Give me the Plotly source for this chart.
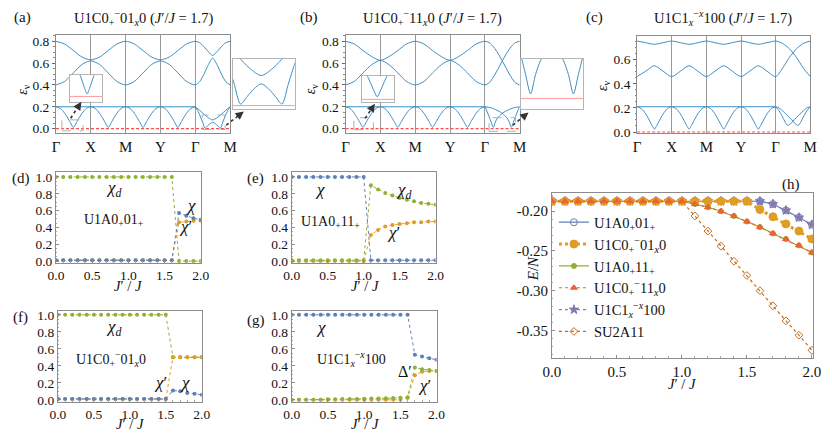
import plotly.graph_objects as go

W, H = 832, 441
FONT = "Liberation Serif"
BAND_C = "#3d8fc4"
BLUE = "#5E81B5"; ORANGE = "#E19C24"; GREEN = "#8FB032"
RED = "#EB6235"; PURPLE = "#8778B3"; BROWN = "#C56E1A"

# ---------------- band-structure data ----------------
hs_ticks = [0, 1, 2, 3, 4, 5]
hs_labels = ["Γ", "X", "M", "Y", "Γ", "M"]

k_up = [0, 0.25, 0.5, 0.75, 1, 1.25, 1.5, 1.75, 2, 2.25, 2.5, 2.75, 3, 3.25, 3.5, 3.75, 4,
        4.125, 4.25, 4.375, 4.5, 4.625, 4.75, 4.875, 5]
k_low = [0, 0.125, 0.25, 0.375, 0.45, 0.5, 0.55, 0.625, 0.75, 0.875,
         1, 1.125, 1.25, 1.375, 1.45, 1.5, 1.55, 1.625, 1.75, 1.875,
         2, 2.125, 2.25, 2.375, 2.45, 2.5, 2.55, 2.625, 2.75, 2.875,
         3, 3.125, 3.25, 3.375, 3.45, 3.5, 3.55, 3.625, 3.75, 3.875, 4]
k_flat = [0, 4]

# (a)
a_top = [0.80, 0.775, 0.715, 0.655, 0.63, 0.655, 0.715, 0.775, 0.80, 0.775, 0.715, 0.655, 0.63,
         0.655, 0.715, 0.775, 0.80, 0.787, 0.75, 0.705, 0.67, 0.705, 0.75, 0.787, 0.80]
a_mid = [0.40, 0.432, 0.51, 0.588, 0.62, 0.588, 0.51, 0.432, 0.40, 0.432, 0.51, 0.588, 0.62,
         0.588, 0.51, 0.432, 0.40, 0.43, 0.50, 0.585, 0.645, 0.585, 0.50, 0.43, 0.40]
a_flat = [0.2, 0.2]
a_low = [0.2, 0.185, 0.141, 0.077, 0.033, 0.01, 0.033, 0.077, 0.141, 0.185,
         0.2, 0.185, 0.141, 0.077, 0.033, 0.01, 0.033, 0.077, 0.141, 0.185,
         0.2, 0.185, 0.141, 0.077, 0.033, 0.01, 0.033, 0.077, 0.141, 0.185,
         0.2, 0.185, 0.141, 0.077, 0.033, 0.01, 0.033, 0.077, 0.141, 0.185, 0.2]
a_k_gm1 = [4.0, 4.07, 4.14, 4.21, 4.28, 4.35, 4.42, 4.5, 4.58, 4.65, 4.72, 4.79, 4.86, 4.93, 5.0]
a_gm1 = [0.2, 0.165, 0.115, 0.06, 0.004, 0.024, 0.044, 0.058, 0.044, 0.024, 0.004, 0.06, 0.115, 0.165, 0.2]
a_k_gm2 = [4.0, 4.125, 4.25, 4.375, 4.5, 4.625, 4.75, 4.875, 5.0]
a_gm2 = [0.2, 0.168, 0.132, 0.1, 0.08, 0.1, 0.132, 0.168, 0.2]

# (b)
b_top = [0.80, 0.775, 0.715, 0.66, 0.625, 0.66, 0.715, 0.775, 0.80, 0.775, 0.715, 0.66, 0.625,
         0.66, 0.715, 0.775, 0.80, 0.787, 0.748, 0.69, 0.62, 0.545, 0.475, 0.42, 0.40]
b_mid = [0.40, 0.432, 0.51, 0.585, 0.625, 0.585, 0.51, 0.432, 0.40, 0.432, 0.51, 0.585, 0.625,
         0.585, 0.51, 0.432, 0.40, 0.42, 0.475, 0.545, 0.62, 0.69, 0.748, 0.787, 0.80]
b_flat = [0.2, 0.2]
b_low = [0.2, 0.185, 0.141, 0.077, 0.034, 0.011, 0.034, 0.077, 0.141, 0.185,
         0.2, 0.185, 0.141, 0.077, 0.034, 0.011, 0.034, 0.077, 0.141, 0.185,
         0.2, 0.185, 0.141, 0.077, 0.034, 0.011, 0.034, 0.077, 0.141, 0.185,
         0.2, 0.185, 0.141, 0.077, 0.034, 0.011, 0.034, 0.077, 0.141, 0.185, 0.2]
b_k_gm1 = [4.0, 4.06, 4.12, 4.18, 4.24, 4.30, 4.36, 4.43, 4.5, 4.6, 4.7, 4.8, 4.9, 5.0]
b_gm1 = [0.2, 0.16, 0.11, 0.06, 0.012, 0.06, 0.095, 0.12, 0.14, 0.16, 0.175, 0.188, 0.196, 0.2]
b_k_gm2 = [4.0, 4.1, 4.2, 4.3, 4.4, 4.5, 4.57, 4.64, 4.70, 4.76, 4.82, 4.88, 4.94, 5.0]
b_gm2 = [0.2, 0.196, 0.188, 0.175, 0.16, 0.14, 0.12, 0.095, 0.06, 0.012, 0.06, 0.11, 0.16, 0.2]

# (c)
c_k_up = [0, 0.25, 0.5, 0.75, 1, 1.25, 1.5, 1.75, 2, 2.25, 2.5, 2.75, 3, 3.25, 3.5, 3.75, 4,
          4.2, 4.4, 4.6, 4.8, 5]
c_top = [0.755, 0.7415, 0.728, 0.7415, 0.755, 0.7415, 0.728, 0.7415, 0.755, 0.7415, 0.728,
         0.7415, 0.755, 0.7415, 0.728, 0.7415, 0.755, 0.735, 0.69, 0.62, 0.53, 0.46]
c_mid = [0.46, 0.505, 0.55, 0.505, 0.46, 0.505, 0.55, 0.505, 0.46, 0.505, 0.55, 0.505, 0.46,
         0.505, 0.55, 0.505, 0.46, 0.53, 0.62, 0.69, 0.735, 0.755]
c_flat = [0.21, 0.21]
c_low = [0.21, 0.194, 0.15, 0.085, 0.045, 0.024, 0.045, 0.085, 0.15, 0.194,
         0.21, 0.194, 0.15, 0.085, 0.045, 0.024, 0.045, 0.085, 0.15, 0.194,
         0.21, 0.194, 0.15, 0.085, 0.045, 0.024, 0.045, 0.085, 0.15, 0.194,
         0.21, 0.194, 0.15, 0.085, 0.045, 0.024, 0.045, 0.085, 0.15, 0.194, 0.21]
c_k_gm1 = [4.0, 4.1, 4.2, 4.28, 4.35, 4.42, 4.5, 4.6, 4.7, 4.8, 4.9, 5.0]
c_gm1 = [0.21, 0.175, 0.125, 0.08, 0.055, 0.065, 0.09, 0.12, 0.15, 0.175, 0.2, 0.21]
c_k_gm2 = [4.0, 4.1, 4.2, 4.3, 4.4, 4.5, 4.58, 4.65, 4.72, 4.8, 4.9, 5.0]
c_gm2 = [0.21, 0.2, 0.175, 0.15, 0.12, 0.09, 0.065, 0.055, 0.08, 0.125, 0.175, 0.21]

# ---------------- order-parameter data ----------------
jx = [0.0, 0.1, 0.2, 0.3, 0.4, 0.5, 0.6, 0.7, 0.8, 0.9, 1.0, 1.1, 1.2, 1.3, 1.4, 1.5, 1.6, 1.7, 1.8, 1.9, 2.0]

d_chid = [1.0, 1.0, 1.0, 1.0, 1.0, 1.0, 1.0, 1.0, 1.0, 1.0, 1.0, 1.0, 1.0, 1.0, 1.0, 1.0, 1.0, 0.0, 0.0, 0.0, 0.0]
d_chi = [0.01, 0.01, 0.01, 0.01, 0.01, 0.01, 0.01, 0.01, 0.01, 0.01, 0.01, 0.01, 0.01, 0.01, 0.01, 0.01, 0.01, 0.57, 0.54, 0.51, 0.49]
d_chip = [0.01, 0.01, 0.01, 0.01, 0.01, 0.01, 0.01, 0.01, 0.01, 0.01, 0.01, 0.01, 0.01, 0.01, 0.01, 0.01, 0.01, 0.46, 0.47, 0.48, 0.48]

e_chi = [1.0, 1.0, 1.0, 1.0, 1.0, 1.0, 1.0, 1.0, 1.0, 1.0, 1.0, 0.01, 0.01, 0.01, 0.01, 0.01, 0.01, 0.01, 0.01, 0.01, 0.01]
e_chid = [0.01, 0.01, 0.01, 0.01, 0.01, 0.01, 0.01, 0.01, 0.01, 0.01, 0.01, 0.90, 0.85, 0.81, 0.78, 0.75, 0.73, 0.71, 0.69, 0.68, 0.67]
e_chip = [0.0, 0.0, 0.0, 0.0, 0.0, 0.0, 0.0, 0.0, 0.0, 0.0, 0.0, 0.31, 0.37, 0.41, 0.43, 0.44, 0.45, 0.46, 0.46, 0.47, 0.47]

f_chid = [1.0, 1.0, 1.0, 1.0, 1.0, 1.0, 1.0, 1.0, 1.0, 1.0, 1.0, 1.0, 1.0, 1.0, 1.0, 1.0, 0.5, 0.5, 0.5, 0.5, 0.5]
f_chip = [0.01, 0.01, 0.01, 0.01, 0.01, 0.01, 0.01, 0.01, 0.01, 0.01, 0.01, 0.01, 0.01, 0.01, 0.01, 0.01, 0.5, 0.5, 0.5, 0.5, 0.5]
f_chi = [0.01, 0.01, 0.01, 0.01, 0.01, 0.01, 0.01, 0.01, 0.01, 0.01, 0.01, 0.01, 0.01, 0.01, 0.01, 0.01, 0.11, 0.10, 0.08, 0.07, 0.06]

g_chi = [1.0, 1.0, 1.0, 1.0, 1.0, 1.0, 1.0, 1.0, 1.0, 1.0, 1.0, 1.0, 1.0, 1.0, 1.0, 1.0, 1.0, 0.53, 0.51, 0.49, 0.47]
g_delp = [0.0, 0.0, 0.0, 0.0, 0.0, 0.005, 0.005, 0.008, 0.01, 0.01, 0.012, 0.014, 0.016, 0.018, 0.02, 0.025, 0.03, 0.38, 0.36, 0.35, 0.34]
g_chip = [0.0, 0.0, 0.0, 0.0, 0.0, 0.0, 0.0, 0.0, 0.0, 0.0, 0.0, 0.0, 0.0, 0.0, 0.0, 0.0, 0.02, 0.29, 0.33, 0.34, 0.34]

# ---------------- energy data (h) ----------------
h_u1a0_01 = [-0.1875, -0.1875, -0.1875, -0.1875, -0.1875, -0.1875, -0.1875, -0.1875, -0.1875, -0.1875, -0.1875,
             -0.1875, -0.1875, -0.1875, -0.1875, -0.1875, -0.1875, -0.191, -0.199, -0.208, -0.217]
h_u1c0_01 = [-0.1875, -0.1875, -0.1875, -0.1875, -0.1875, -0.1875, -0.1875, -0.1875, -0.1875, -0.1875, -0.1875,
             -0.1875, -0.1875, -0.1875, -0.1875, -0.1875, -0.198, -0.207, -0.216, -0.225, -0.235]
h_u1a0_11 = [-0.1875, -0.1875, -0.1875, -0.1875, -0.1875, -0.1875, -0.1875, -0.1875, -0.1875, -0.1875, -0.1875,
             -0.191, -0.195, -0.200, -0.206, -0.213, -0.220, -0.228, -0.235, -0.243, -0.252]
h_u1c0_11 = [-0.1875, -0.1875, -0.1875, -0.1875, -0.1875, -0.1875, -0.1875, -0.1875, -0.1875, -0.1875, -0.1875,
             -0.191, -0.195, -0.200, -0.206, -0.213, -0.220, -0.228, -0.235, -0.243, -0.252]
h_u1c1_100 = [-0.1875, -0.1875, -0.1875, -0.1875, -0.1875, -0.1875, -0.1875, -0.1875, -0.1875, -0.1875, -0.1875,
              -0.1875, -0.1875, -0.1875, -0.1875, -0.1875, -0.1875, -0.191, -0.199, -0.208, -0.217]
h_su2a11 = [-0.1875, -0.1875, -0.1875, -0.1875, -0.1875, -0.1875, -0.1875, -0.1875, -0.1875, -0.1875, -0.1875,
            -0.206, -0.225, -0.244, -0.263, -0.281, -0.300, -0.319, -0.338, -0.356, -0.375]

# ---------------- helpers ----------------
def px(x):
    return x / W

def py(y):
    return 1 - y / H

def dx(x0, x1):
    return [px(x0), px(x1)]

def dy(y0, y1):
    return [py(y1), py(y0)]

fig = go.Figure()

def band(k, e, n):
    xa = "x" if n == 1 else f"x{n}"
    ya = "y" if n == 1 else f"y{n}"
    fig.add_trace(go.Scatter(x=k, y=e, mode="lines", xaxis=xa, yaxis=ya, showlegend=False,
                             hoverinfo="skip",
                             line=dict(color=BAND_C, width=1, shape="spline", smoothing=0.8)))

a_bands = [(k_up, a_top), (k_up, a_mid), (k_flat, a_flat), (k_low, a_low), (a_k_gm1, a_gm1), (a_k_gm2, a_gm2)]
b_bands = [(k_up, b_top), (k_up, b_mid), (k_flat, b_flat), (k_low, b_low), (b_k_gm1, b_gm1), (b_k_gm2, b_gm2)]
c_bands = [(c_k_up, c_top), (c_k_up, c_mid), (k_flat, c_flat), (k_low, c_low), (c_k_gm1, c_gm1), (c_k_gm2, c_gm2)]

for n in (1, 2, 3):
    for k, e in a_bands:
        band(k, e, n)
for n in (4, 5, 6):
    for k, e in b_bands:
        band(k, e, n)
for k, e in c_bands:
    band(k, e, 7)

def op(xv, yv, color, n):
    fig.add_trace(go.Scatter(x=xv, y=yv, mode="lines+markers", xaxis=f"x{n}", yaxis=f"y{n}",
                             showlegend=False, hoverinfo="skip",
                             line=dict(color=color, width=1, dash="dot"),
                             marker=dict(color=color, size=4)))

op(jx, d_chid, GREEN, 8); op(jx, d_chip, ORANGE, 8); op(jx, d_chi, BLUE, 8)
op(jx, e_chip, ORANGE, 9); op(jx, e_chid, GREEN, 9); op(jx, e_chi, BLUE, 9)
op(jx, f_chid, GREEN, 10); op(jx, f_chip, ORANGE, 10); op(jx, f_chi, BLUE, 10)
op(jx, g_chip, ORANGE, 11); op(jx, g_delp, GREEN, 11); op(jx, g_chi, BLUE, 11)

# (legend rank, name, values, colour, dash, width, symbol, size); drawn in list order
h_series = [
    (1, "U1A0<sub>+</sub>01<sub>+</sub>", h_u1a0_01, BLUE, "solid", 1.2, "circle-open", 7),
    (5, "U1C1<sub><i>x</i></sub><sup>−<i>x</i></sup>100", h_u1c1_100, PURPLE, "dot", 1.2, "star", 7),
    (6, "SU2A11", h_su2a11, BROWN, "dot", 1.2, "diamond-open", 6),
    (3, "U1A0<sub>+</sub>11<sub>+</sub>", h_u1a0_11, GREEN, "solid", 1.2, "circle", 5),
    (2, "U1C0<sub>+</sub><sup>−</sup>01<sub><i>x</i></sub>0", h_u1c0_01, ORANGE, "dot", 3, "circle", 8),
    (4, "U1C0<sub>+</sub><sup>−</sup>11<sub><i>x</i></sub>0", h_u1c0_11, RED, "dot", 1.2, "triangle-up", 6),
]
for rank, name, yv, color, dash, lw, sym, ms in h_series:
    fig.add_trace(go.Scatter(x=jx, y=yv, name=name, mode="lines+markers", xaxis="x12", yaxis="y12",
                             legendgroup=f"g{rank}", legendrank=rank, hoverinfo="skip",
                             line=dict(color=color, width=lw, dash=dash),
                             marker=dict(color=color, size=ms, symbol=sym, line=dict(color=color, width=1))))

# ---------------- axes ----------------
TF = dict(family=FONT, size=13.5, color="#111")
frame = dict(showline=True, mirror=True, linecolor="#8c8c8c", linewidth=1, zeroline=False,
             fixedrange=True)

def band_axes(n, xdom, ydom, yr, yt):
    sx = "xaxis" if n == 1 else f"xaxis{n}"
    sy = "yaxis" if n == 1 else f"yaxis{n}"
    a = "y" if n == 1 else f"y{n}"
    b = "x" if n == 1 else f"x{n}"
    fig.layout[sx] = dict(frame, domain=xdom, range=[0, 5], anchor=a, tickmode="array",
                          tickvals=hs_ticks, ticktext=hs_labels, showgrid=True, gridcolor="#9a9a9a",
                          gridwidth=1, ticks="", tickfont=dict(family=FONT, size=15, color="#111"))
    fig.layout[sy] = dict(frame, domain=ydom, range=yr, anchor=b, tickmode="array", tickvals=yt,
                          ticktext=[f"{v:.1f}" for v in yt], showgrid=False, ticks="outside",
                          ticklen=3, tickcolor="#666", tickfont=TF,
                          minor=dict(ticks="outside", ticklen=1.5, dtick=0.05, tickcolor="#888"))

def inset_axes(n, xdom, ydom, xr, yr):
    fig.layout[f"xaxis{n}"] = dict(frame, domain=xdom, range=xr, anchor=f"y{n}", showticklabels=False,
                                   ticks="", showgrid=False, linecolor="#b5b5b5")
    fig.layout[f"yaxis{n}"] = dict(frame, domain=ydom, range=yr, anchor=f"x{n}", showticklabels=False,
                                   ticks="", showgrid=False, linecolor="#b5b5b5")

band_axes(1, dx(48, 226), dy(33, 133), [-0.04, 0.855], [0, 0.2, 0.4, 0.6, 0.8])
band_axes(4, dx(344, 522), dy(33, 133), [-0.04, 0.855], [0, 0.2, 0.4, 0.6, 0.8])
band_axes(7, dx(642, 819), dy(34, 133), [-0.008, 0.795], [0, 0.2, 0.4, 0.6])

inset_axes(2, dx(62, 95), dy(74, 101), [0.17, 0.78], [-0.02, 0.08])
inset_axes(3, dx(229, 292), dy(57, 108), [4.2, 4.855], [-0.008, 0.125])
inset_axes(5, dx(361, 394), dy(75, 101), [0.24, 0.8], [-0.01, 0.1])
inset_axes(6, dx(523, 587), dy(57, 108), [4.12, 4.88], [-0.025, 0.1])

def op_axes(n, xdom, ydom, yr):
    fig.layout[f"xaxis{n}"] = dict(frame, domain=xdom, range=[0, 2], anchor=f"y{n}", tickmode="array",
                                   tickvals=[0, 0.5, 1, 1.5, 2],
                                   ticktext=["0.0", "0.5", "1.0", "1.5", "2.0"], ticks="inside",
                                   ticklen=3, tickcolor="#8c8c8c", showgrid=False, tickfont=TF,
                                   minor=dict(ticks="inside", ticklen=1.5, dtick=0.1, tickcolor="#aaa"))
    fig.layout[f"yaxis{n}"] = dict(frame, domain=ydom, range=yr, anchor=f"x{n}", tickmode="array",
                                   tickvals=[0, 0.2, 0.4, 0.6, 0.8, 1.0],
                                   ticktext=["0.0", "0.2", "0.4", "0.6", "0.8", "1.0"], ticks="inside",
                                   ticklen=3, tickcolor="#8c8c8c", showgrid=False, tickfont=TF,
                                   minor=dict(ticks="inside", ticklen=1.5, dtick=0.05, tickcolor="#aaa"))

op_axes(8, dx(48, 196), dy(173, 266), [-0.023, 1.058])
op_axes(9, dx(289, 436), dy(173, 266), [-0.023, 1.058])
op_axes(10, dx(50, 197), dy(315, 408), [-0.023, 1.046])
op_axes(11, dx(289, 437), dy(315, 408), [-0.023, 1.046])

HF = dict(family=FONT, size=15, color="#111")
fig.layout["xaxis12"] = dict(frame, domain=dx(555, 822), range=[0, 2.01], anchor="y12", tickmode="array",
                             tickvals=[0, 0.5, 1, 1.5, 2], ticktext=["0.0", "0.5", "1.0", "1.5", "2.0"],
                             ticks="inside", ticklen=3, tickcolor="#8c8c8c", showgrid=False, tickfont=HF,
                             minor=dict(ticks="inside", ticklen=1.5, dtick=0.1, tickcolor="#aaa"))
fig.layout["yaxis12"] = dict(frame, domain=dy(194, 363), range=[-0.3844, -0.1766], anchor="x12",
                             tickmode="array", tickvals=[-0.20, -0.25, -0.30, -0.35],
                             ticktext=["-0.20", "-0.25", "-0.30", "-0.35"], ticks="inside", ticklen=3,
                             tickcolor="#8c8c8c", showgrid=False, tickfont=HF,
                             minor=dict(ticks="inside", ticklen=1.5, dtick=0.01, tickcolor="#aaa"))

# ---------------- shapes: zero lines, zoom boxes, arrows ----------------
shapes = []
for (xa, ya) in (("x", "y"), ("x4", "y4"), ("x7", "y7")):
    shapes.append(dict(type="line", xref=xa, yref=ya, x0=0, x1=5, y0=0, y1=0,
                       line=dict(color="#ff4d4d", width=1.1, dash="3px,2px"), layer="above"))
for (xa, ya) in (("x2", "y2"), ("x3", "y3"), ("x5", "y5"), ("x6", "y6")):
    shapes.append(dict(type="line", xref=xa, yref=ya, x0=0, x1=5, y0=0, y1=0,
                       line=dict(color="#ff9a9a", width=1), layer="above"))
# zoom boxes (same windows as insets)
for (xa, ya, xr, yr) in (("x", "y", [0.17, 0.78], [-0.02, 0.08]),
                         ("x", "y", [4.2, 4.855], [-0.008, 0.125]),
                         ("x4", "y4", [0.24, 0.8], [-0.01, 0.1]),
                         ("x4", "y4", [4.12, 4.88], [-0.025, 0.1])):
    shapes.append(dict(type="rect", xref=xa, yref=ya, x0=xr[0], x1=xr[1], y0=yr[0], y1=yr[1],
                       line=dict(color="#b0b0b0", width=1, dash="dash"), layer="above"))

arrows = [((63, 118), (74, 101)), ((222, 125), (240, 111)),
          ((364, 118), (374, 103)), ((515, 125), (531, 112))]
annotations = []
for (tx, ty), (hx, hy) in arrows:
    shapes.append(dict(type="line", xref="paper", yref="paper", x0=px(tx), y0=py(ty),
                       x1=px(hx - (hx - tx) * 0.25), y1=py(hy - (hy - ty) * 0.25),
                       line=dict(color="#333", width=1.6, dash="dot"), layer="above"))
    L = ((hx - tx) ** 2 + (hy - ty) ** 2) ** 0.5
    annotations.append(dict(x=px(hx), y=py(hy), xref="paper", yref="paper", text="", showarrow=True,
                            ax=-(hx - tx) / L * 7, ay=-(hy - ty) / L * 7, arrowhead=2, arrowsize=1.1,
                            arrowwidth=1.5, arrowcolor="#333", standoff=0))

def ann(text, x, y, size=13, angle=0, xanchor="center"):
    annotations.append(dict(text=text, x=px(x), y=py(y), xref="paper", yref="paper", showarrow=False,
                            font=dict(family=FONT, size=size, color="#111"), textangle=angle,
                            xanchor=xanchor, yanchor="middle"))

# panel labels
ann("(a)", 14, 15, 15); ann("(b)", 307, 15, 15); ann("(c)", 598, 15, 15)
ann("(d)", 12, 180, 15); ann("(e)", 252, 180, 15); ann("(f)", 12, 322, 15)
ann("(g)", 252, 325, 15); ann("(h)", 799, 186, 15)
# titles
ann("U1C0<sub>+</sub><sup>−</sup>01<sub><i>x</i></sub>0 (<i>J</i>′/<i>J</i> = 1.7)", 137, 15, 14.5)
ann("U1C0<sub>+</sub><sup>−</sup>11<sub><i>x</i></sub>0 (<i>J</i>′/<i>J</i> = 1.7)", 433, 15, 14.5)
ann("U1C1<sub><i>x</i></sub><sup>−<i>x</i></sup>100 (<i>J</i>′/<i>J</i> = 1.7)", 730, 15, 14.5)
# band y titles
ann("<i>ε</i><sub>ν</sub>", 14, 88, 14, -90)
ann("<i>ε</i><sub>ν</sub>", 309, 88, 14, -90)
ann("<i>ε</i><sub>ν</sub>", 607, 84, 14, -90)
# x titles of lower panels
for (x, y) in ((122, 290), (364, 290), (124, 431), (364, 431), (688, 390)):
    ann("<i>J</i>′ / <i>J</i>", x, y, 14.5)
ann("<i>E</i>/<i>N</i>", 535, 272, 15, -90)
# in-panel labels
ann("<i>χ</i><sub><i>d</i></sub>", 107, 190, 17); ann("U1A0<sub>+</sub>01<sub>+</sub>", 107, 223, 14)
ann("<i>χ</i>", 186, 207, 17); ann("<i>χ</i>′", 180, 229, 17)
ann("<i>χ</i>", 318, 191, 17); ann("U1A0<sub>+</sub>11<sub>+</sub>", 329, 225, 14)
ann("<i>χ</i><sub><i>d</i></sub>", 403, 192, 17); ann("<i>χ</i>′", 393, 235, 17)
ann("<i>χ</i><sub><i>d</i></sub>", 107, 333, 17); ann("U1C0<sub>+</sub><sup>−</sup>01<sub><i>x</i></sub>0", 104, 364, 14)
ann("<i>χ</i>′", 155, 388, 17); ann("<i>χ</i>", 180, 388, 17)
ann("<i>χ</i>", 319, 332, 17); ann("U1C1<sub><i>x</i></sub><sup>−<i>x</i></sup>100", 350, 364, 14)
ann("Δ′", 405, 377, 16); ann("<i>χ</i>′", 425, 391, 17)

fig.update_layout(
    width=W, height=H, margin=dict(l=0, r=0, t=0, b=0),
    paper_bgcolor="white", plot_bgcolor="white",
    font=dict(family=FONT, size=13, color="#111"),
    shapes=shapes, annotations=annotations,
    showlegend=True,
    legend=dict(x=px(557), y=py(208), xanchor="left", yanchor="top", bgcolor="rgba(0,0,0,0)",
                font=dict(family=FONT, size=14.5, color="#111"), tracegroupgap=5, itemwidth=30,
                traceorder="normal", itemclick=False, itemdoubleclick=False),
)

fig.write_html("out.html", config={"displayModeBar": False, "staticPlot": True},
               post_script="document.body.style.margin='0';document.body.style.overflow='hidden';")
